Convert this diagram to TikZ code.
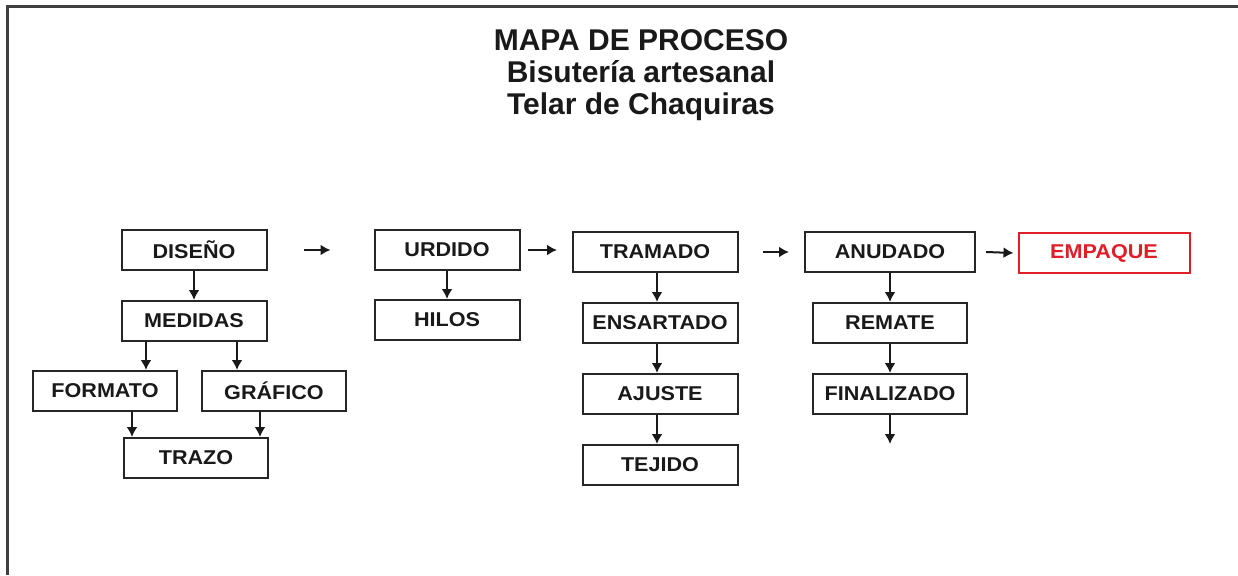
\documentclass[tikz,border=0pt]{standalone}
\usepackage{fontspec}
\setmainfont{Liberation Sans}
\newfontfamily\cajafont[FakeStretch=1.08]{Liberation Sans}
\usetikzlibrary{arrows.meta}
\definecolor{rojo}{RGB}{222,30,40}
\tikzset{
    paso/.style={
           rectangle,
           draw=black!85, line width=2pt,
           minimum height=40pt,
           inner sep=2pt,
           font=\cajafont\fontsize{20}{24}\selectfont\bfseries,
           text=black!90,
           },
    final/.style={
           paso,
           draw=rojo, text=rojo,
           },
    flecha/.style={
           ->, >={Latex[length=10pt,width=11pt]}, line width=2pt, black!90,
           },
}

\begin{document}
\begin{tikzpicture}[x=1pt,y=-1pt]
\useasboundingbox (0,0) rectangle (1238,575);
\draw[black!75, line width=3pt] (7,575) -- (7,7) -- (1238,7);
\node[font=\fontsize{30}{32}\selectfont\bfseries, align=center, text=black!90] (titulo) at (641,75) {MAPA DE PROCESO\\ Bisutería artesanal\\ Telar de Chaquiras};
% diseno
\node[paso, minimum width=145pt] (diseno) at (194,250) {DISEÑO};
\node[paso, minimum width=145pt] (medidas) at (194,321) {MEDIDAS};
\node[paso, minimum width=144pt] (formato) at (105,391) {FORMATO};
\node[paso, minimum width=144pt] (grafico) at (274,391) {GRÁFICO};
\node[paso, minimum width=144pt] (trazo) at (196,458) {TRAZO};
\draw[flecha] (diseno.south) -- (medidas.north);
\draw[flecha] (medidas.south -| 146,0) -- (formato.north -| 146,0);
\draw[flecha] (medidas.south -| 237,0) -- (grafico.north -| 237,0);
\draw[flecha] (formato.south -| 132,0) -- (trazo.north -| 132,0);
\draw[flecha] (grafico.south -| 260,0) -- (trazo.north -| 260,0);
% urdido
\node[paso, minimum width=145pt] (urdido) at (447,250) {URDIDO};
\node[paso, minimum width=145pt] (hilos) at (447,320) {HILOS};
\draw[flecha] (urdido.south) -- (hilos.north);
\draw[flecha] ([xshift=36pt]diseno.east) -- ([xshift=-43pt]urdido.west);
% tramado
\node[paso, minimum width=165pt] (tramado) at (655,252) {TRAMADO};
\node[paso, minimum width=155pt] (ensartado) at (660,323) {ENSARTADO};
\node[paso, minimum width=155pt] (ajuste) at (660,394) {AJUSTE};
\node[paso, minimum width=155pt] (tejido) at (660,465) {TEJIDO};
\draw[flecha] (urdido.east -| 528,0) -- (urdido.east -| 557,0);
\draw[flecha] (tramado.south -| 657,0) -- (ensartado.north -| 657,0);
\draw[flecha] (ensartado.south -| 657,0) -- (ajuste.north -| 657,0);
\draw[flecha] (ajuste.south -| 657,0) -- (tejido.north -| 657,0);
% anudado
\node[paso, minimum width=170pt] (anudado) at (890,252) {ANUDADO};
\node[paso, minimum width=154pt] (remate) at (890,323) {REMATE};
\node[paso, minimum width=154pt] (finalizado) at (890,394) {FINALIZADO};
\coordinate (fin) at (890,444);
\draw[flecha] ([xshift=24pt]tramado.east) -- ([xshift=-15pt]anudado.west);
\draw[flecha] (anudado.south) -- (remate.north);
\draw[flecha] (remate.south) -- (finalizado.north);
\draw[flecha] (finalizado.south) -- (fin);
% empaque
\node[final, minimum width=171pt] (empaque) at (1104,253) {EMPAQUE};
\draw[flecha] ([xshift=10pt]anudado.east) -- ([xshift=-4pt]empaque.west);
\end{tikzpicture}
\end{document}
